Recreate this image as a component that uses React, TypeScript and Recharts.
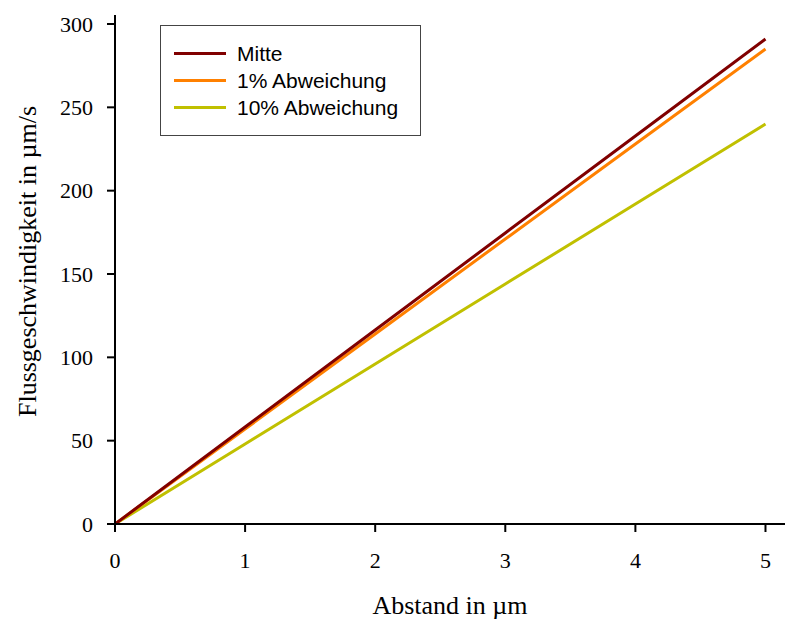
import React from 'react';
import { LineChart, Line, XAxis, YAxis } from 'recharts';

const abstand = [0, 1, 2, 3, 4, 5];
const mitte = [0, 58.2, 116.4, 174.6, 232.8, 291];
const abw1 = [0, 57, 114, 171, 228, 285];
const abw10 = [0, 48, 96, 144, 192, 240];
const xTicks = [0, 1, 2, 3, 4, 5];
const yTicks = [0, 50, 100, 150, 200, 250, 300];

const seriesNames = ['Mitte', '1% Abweichung', '10% Abweichung'];
const seriesColors = ['#800000', '#ff8000', '#c0c000'];

const data = abstand.map((x, i) => ({
  x,
  mitte: mitte[i],
  abw1: abw1[i],
  abw10: abw10[i],
}));

const serif = '"Liberation Serif", "Times New Roman", serif';

const YTitle = (props: any) => {
  const { viewBox } = props;
  const cy = viewBox.y + viewBox.height / 2 - 8;
  return (
    <text
      x={36}
      y={cy}
      transform={`rotate(-90, 36, ${cy})`}
      textAnchor="middle"
      fontFamily={serif}
      fontSize={26}
      fill="#000"
    >
      Flussgeschwindigkeit in µm/s
    </text>
  );
};

const XTitle = (props: any) => {
  const { viewBox } = props;
  const cx = viewBox.x + viewBox.width / 2;
  return (
    <text x={cx} y={614} textAnchor="middle" fontFamily={serif} fontSize={26} fill="#000">
      Abstand in µm
    </text>
  );
};

// legend box drawn over the plot, like the original
const LegendBox = () => (
  <div
    style={{
      position: 'absolute',
      left: 160,
      top: 25,
      width: 261,
      height: 111,
      border: '1px solid #444',
      background: '#fff',
      boxSizing: 'border-box',
      paddingTop: 14,
      fontFamily: '"Liberation Sans", Arial, sans-serif',
      fontSize: 21,
      color: '#000',
    }}
  >
    {seriesNames.map((name, i) => (
      <div key={name} style={{ display: 'flex', alignItems: 'center', height: 27 }}>
        <div style={{ marginLeft: 13, width: 52, height: 3, background: seriesColors[i] }} />
        <span style={{ marginLeft: 11 }}>{name}</span>
      </div>
    ))}
  </div>
);

export default function App() {
  return (
    <div style={{ position: 'absolute', left: 0, top: 0, width: 785, height: 619, background: '#fff' }}>
      <LineChart width={785} height={619} data={data} margin={{ top: 15, right: 0, bottom: 0, left: 0 }}>
        <XAxis
          xAxisId="top"
          orientation="top"
          dataKey="x"
          type="number"
          domain={[0, 5.15]}
          allowDataOverflow
          height={0}
          tick={false}
          tickLine={false}
          axisLine={{ stroke: '#000', strokeWidth: 2 }}
        />
        <XAxis
          dataKey="x"
          type="number"
          domain={[0, 5.15]}
          allowDataOverflow
          ticks={xTicks}
          height={95}
          tickSize={8}
          tickMargin={20}
          axisLine={{ stroke: '#000', strokeWidth: 2 }}
          tickLine={{ stroke: '#000', strokeWidth: 2 }}
          tick={{ fill: '#000', fontFamily: serif, fontSize: 22 }}
          label={<XTitle />}
        />
        <YAxis
          type="number"
          domain={[0, 305.4]}
          allowDataOverflow
          ticks={yTicks}
          width={115}
          tickSize={8}
          tickMargin={14}
          axisLine={{ stroke: '#000', strokeWidth: 2 }}
          tickLine={{ stroke: '#000', strokeWidth: 2 }}
          tick={{ fill: '#000', fontFamily: serif, fontSize: 22 }}
          label={<YTitle />}
        />
        <Line dataKey="abw10" name={seriesNames[2]} stroke={seriesColors[2]} strokeWidth={3} dot={false} isAnimationActive={false} />
        <Line dataKey="abw1" name={seriesNames[1]} stroke={seriesColors[1]} strokeWidth={3} dot={false} isAnimationActive={false} />
        <Line dataKey="mitte" name={seriesNames[0]} stroke={seriesColors[0]} strokeWidth={3} dot={false} isAnimationActive={false} />
      </LineChart>
      <LegendBox />
    </div>
  );
}
